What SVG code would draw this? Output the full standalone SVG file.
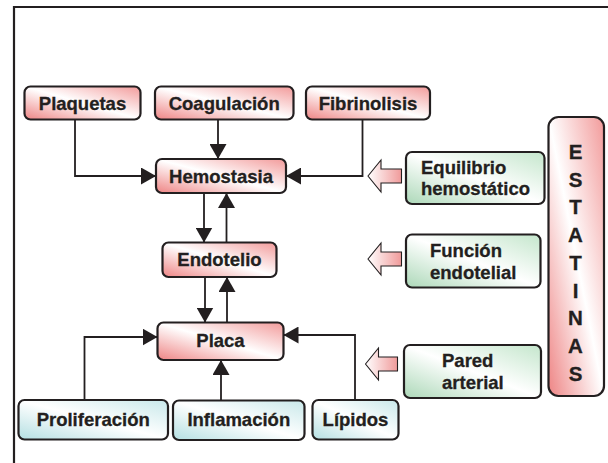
<svg xmlns="http://www.w3.org/2000/svg" width="608" height="463" viewBox="0 0 608 463">
<defs>
<linearGradient id="gRed" x1="1" y1="0" x2="0" y2="1">
<stop offset="0" stop-color="#f29a9a"/>
<stop offset="0.5" stop-color="#ffffff"/>
<stop offset="1" stop-color="#ee8484"/>
</linearGradient>
<linearGradient id="gGreen" x1="1" y1="0" x2="0" y2="1">
<stop offset="0" stop-color="#c4e6cc"/>
<stop offset="0.5" stop-color="#ffffff"/>
<stop offset="1" stop-color="#acd8b8"/>
</linearGradient>
<linearGradient id="gCyan" x1="1" y1="0" x2="0" y2="1">
<stop offset="0" stop-color="#c8e8ea"/>
<stop offset="0.5" stop-color="#ffffff"/>
<stop offset="1" stop-color="#b4dfe2"/>
</linearGradient>
<linearGradient id="gArrow" x1="0" y1="0" x2="1" y2="0">
<stop offset="0" stop-color="#ffffff"/>
<stop offset="1" stop-color="#f09a9a"/>
</linearGradient>
<marker id="ah" markerUnits="userSpaceOnUse" markerWidth="16" markerHeight="17" refX="15" refY="8.5" orient="auto">
<path d="M0,0 L15,8.5 L0,17 Z" fill="#231f20"/>
</marker>
</defs>
<style>
.box{stroke:#231f20;stroke-width:2.2}
.red{fill:url(#gRed)}
.green{fill:url(#gGreen)}
.cyan{fill:url(#gCyan)}
text{font-family:"Liberation Sans",Arial,Helvetica,sans-serif;font-weight:bold;font-size:18.5px;fill:#231f20;stroke:#231f20;stroke-width:0.3}
.c{text-anchor:middle}
.big{font-size:20.5px}
.conn{fill:none;stroke:#231f20;stroke-width:1.8;marker-end:url(#ah)}
.blk{fill:url(#gArrow);stroke:#231f20;stroke-width:1.1}
</style>
<rect width="608" height="463" fill="#ffffff"/>
<path d="M14,463 V7 H608" fill="none" stroke="#231f20" stroke-width="2.2"/>

<g id="connectors">
<path class="conn" d="M75,119.5 V176 H156"/>
<path class="conn" d="M218,119.5 V159"/>
<path class="conn" d="M362.5,119.5 V176 H286"/>
<path class="conn" d="M204,193 V242.5"/>
<path class="conn" d="M226.5,242.5 V193"/>
<path class="conn" d="M205,277 V322.5"/>
<path class="conn" d="M227,322.5 V277"/>
<path class="conn" d="M84.5,400 V337 H157.5"/>
<path class="conn" d="M221,400.5 V360"/>
<path class="conn" d="M355,400 V335 H283.5"/>
</g>

<g id="blockarrows">
<path class="blk" d="M368,176 L381,160 L381,169 L401.5,169 L401.5,183 L381,183 L381,192 Z"/>
<path class="blk" d="M368,259 L381,243 L381,252 L401.5,252 L401.5,266 L381,266 L381,275 Z"/>
<path class="blk" d="M365.5,364 L378.5,348 L378.5,357 L397.5,357 L397.5,371 L378.5,371 L378.5,380 Z"/>
</g>

<g id="plaquetas"><rect class="box red" x="24.5" y="86.5" width="116" height="33" rx="6"/><text class="c" x="82.5" y="109.5">Plaquetas</text></g>
<g id="coagulacion"><rect class="box red" x="155" y="86.5" width="138.5" height="33" rx="6"/><text class="c" x="224.2" y="109.5">Coagulación</text></g>
<g id="fibrinolisis"><rect class="box red" x="306" y="86.5" width="124" height="33" rx="6"/><text class="c" x="368" y="109.5">Fibrinolisis</text></g>
<g id="hemostasia"><rect class="box red" x="156" y="159" width="130" height="34" rx="6"/><text class="c" x="221" y="182.5">Hemostasia</text></g>
<g id="endotelio"><rect class="box red" x="162.5" y="242.5" width="114" height="34.5" rx="6"/><text class="c" x="219.5" y="265.5">Endotelio</text></g>
<g id="placa"><rect class="box red" x="157.5" y="322.5" width="126" height="37.5" rx="6"/><text class="c" x="220.5" y="346.5">Placa</text></g>
<g id="proliferacion"><rect class="box cyan" x="18.5" y="400" width="149.5" height="39.5" rx="6"/><text class="c" x="93.2" y="426">Proliferación</text></g>
<g id="inflamacion"><rect class="box cyan" x="173" y="400.5" width="131.5" height="39.5" rx="6"/><text class="c" x="238.8" y="426">Inflamación</text></g>
<g id="lipidos"><rect class="box cyan" x="312.5" y="400" width="86" height="39.5" rx="6"/><text class="c" x="355.5" y="426">Lípidos</text></g>
<g id="equilibrio"><rect class="box green" x="406" y="152" width="138.5" height="52" rx="6"/><text x="421" y="173.5">Equilibrio</text><text x="421" y="195">hemostático</text></g>
<g id="funcion"><rect class="box green" x="406" y="234.5" width="134.5" height="53" rx="6"/><text x="430" y="256.5">Función</text><text x="430" y="278.5">endotelial</text></g>
<g id="pared"><rect class="box green" x="404" y="345" width="137" height="53" rx="6"/><text x="442" y="367">Pared</text><text x="442" y="388.5">arterial</text></g>
<g id="estatinas"><rect class="box red" x="548.5" y="117" width="55.5" height="279" rx="10"/>
<text class="c big" x="575.5" y="159">E</text>
<text class="c big" x="575.5" y="186.7">S</text>
<text class="c big" x="575.5" y="214.4">T</text>
<text class="c big" x="575.5" y="242.1">A</text>
<text class="c big" x="575.5" y="269.8">T</text>
<text class="c big" x="575.5" y="297.5">I</text>
<text class="c big" x="575.5" y="325.2">N</text>
<text class="c big" x="575.5" y="352.9">A</text>
<text class="c big" x="575.5" y="380.6">S</text>
</g>
</svg>
